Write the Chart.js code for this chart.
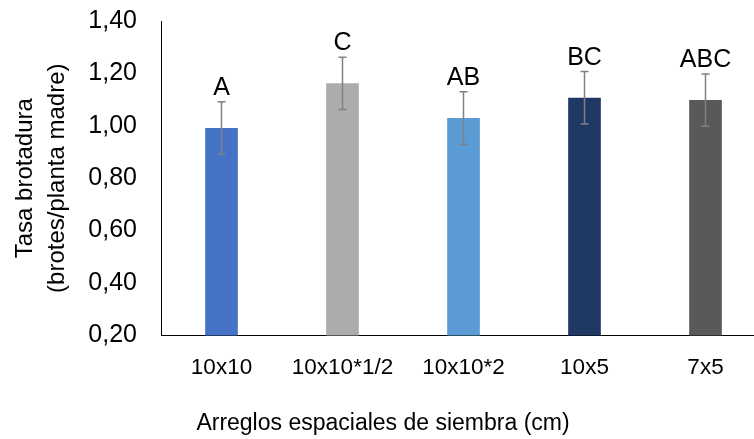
<!DOCTYPE html>
<html>
<head>
<meta charset="utf-8">
<script src="https://cdn.jsdelivr.net/npm/chart.js@4"></script>
<style>
  body { margin: 0; overflow: hidden; background: #fff; }
  #wrap { position: absolute; left: 0; top: 0; width: 766px; height: 439px; }
</style>
</head>
<body>
<div id="wrap"><canvas id="myChart"></canvas></div>
<script>
const ctx = document.getElementById('myChart');

// Data
const arreglos = ['10x10', '10x10*1/2', '10x10*2', '10x5', '7x5'];
const tasaBrotadura = [0.992, 1.162, 1.03, 1.107, 1.098];
const errorEstandar = [0.10, 0.10, 0.10, 0.10, 0.10];
const letras = ['A', 'C', 'AB', 'BC', 'ABC'];
const coloresBarras = ['#4472C4', '#AEABAB', '#5B9BD5', '#203864', '#595959'];

const fontFamily = "'Liberation Sans', Arial, Helvetica, sans-serif";

// Error bars and the letters of the mean comparison
const errorBarsPlugin = {
  id: 'errorBars',
  afterDatasetsDraw(chart) {
    const c = chart.ctx;
    const yScale = chart.scales.y;
    const meta = chart.getDatasetMeta(0);
    c.save();
    meta.data.forEach((bar, i) => {
      const x = bar.x;
      const yTop = yScale.getPixelForValue(tasaBrotadura[i] + errorEstandar[i]);
      const yBot = yScale.getPixelForValue(tasaBrotadura[i] - errorEstandar[i]);
      c.strokeStyle = '#808080';
      c.lineWidth = 1.5;
      c.beginPath();
      c.moveTo(x, yTop);
      c.lineTo(x, yBot);
      c.moveTo(x - 4, yTop);
      c.lineTo(x + 4, yTop);
      c.moveTo(x - 4, yBot);
      c.lineTo(x + 4, yBot);
      c.stroke();

      c.fillStyle = '#000';
      c.font = '25px ' + fontFamily;
      c.textAlign = 'center';
      c.textBaseline = 'alphabetic';
      c.fillText(letras[i], x, yTop - 7);
    });
    c.restore();
  },
};

const myChart = new Chart(ctx, {
  type: 'bar',
  data: {
    labels: arreglos,
    datasets: [
      {
        data: tasaBrotadura,
        backgroundColor: coloresBarras,
        borderWidth: 0,
        barPercentage: 0.27,
        categoryPercentage: 1,
      },
    ],
  },
  plugins: [errorBarsPlugin],
  options: {
    responsive: true,
    maintainAspectRatio: false,
    animation: false,
    layout: {
      padding: { top: 21, left: 0, right: 0, bottom: 0 },
    },
    plugins: {
      legend: { display: false },
      tooltip: { enabled: false },
      title: {
        display: true,
        position: 'bottom',
        text: 'Arreglos espaciales de siembra (cm)',
        color: '#000',
        font: { family: fontFamily, size: 23, weight: 'normal' },
        padding: { top: 0, bottom: 2 },
      },
    },
    scales: {
      x: {
        grid: { display: false, drawTicks: false },
        border: { display: true, color: '#000', width: 1 },
        ticks: {
          color: '#000',
          padding: 19,
          font: { family: fontFamily, size: 22.5 },
          maxRotation: 0,
          autoSkip: false,
        },
        afterFit: (scale) => {
          scale.height = 74;
        },
      },
      y: {
        min: 0.2,
        max: 1.4,
        grid: { display: false, drawTicks: false },
        border: { display: true, color: '#000', width: 1 },
        ticks: {
          stepSize: 0.2,
          color: '#000',
          padding: 24,
          font: { family: fontFamily, size: 25 },
          callback: (value) => value.toFixed(2).replace('.', ','),
        },
        title: {
          display: true,
          text: ['Tasa brotadura', '(brotes/planta madre)'],
          color: '#000',
          font: { family: fontFamily, size: 24, lineHeight: 1.35 },
          padding: { top: 9, bottom: 0 },
        },
        afterFit: (scale) => {
          scale.width = 161;
          // the tick padding should not push the plot down
          scale.paddingTop = 0;
        },
      },
    },
  },
});
</script>
</body>
</html>
